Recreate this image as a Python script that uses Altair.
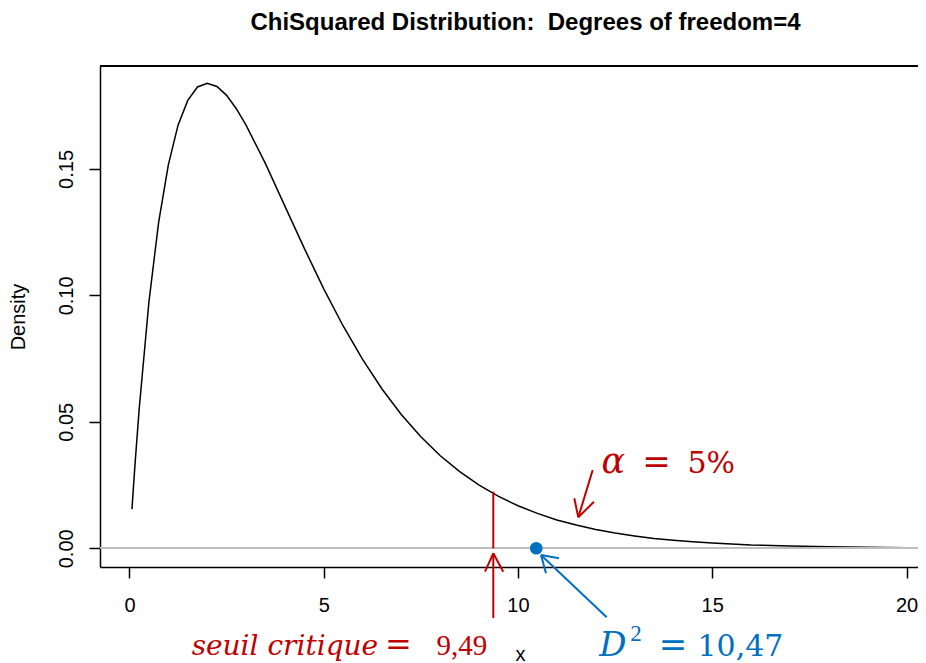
import altair as alt
import pandas as pd

# ---- data ----
CURVE_X = [0.064, 0.1, 0.15, 0.25, 0.5, 0.75, 1.0, 1.25, 1.5, 1.75, 2.0, 2.25, 2.5, 2.75,
           3.0, 3.5, 4.0, 4.5, 5.0, 5.5, 6.0, 6.5, 7.0, 7.5, 8.0, 8.5, 9.0, 9.5, 10.0,
           10.5, 11.0, 11.5, 12.0, 12.5, 13.0, 13.5, 14.0, 14.5, 15.0, 16.0, 17.0, 18.0,
           19.0, 20.0]
CURVE_Y = [0.0155, 0.0238, 0.0348, 0.0552, 0.0974, 0.1289, 0.1516, 0.1673, 0.1771, 0.1824,
           0.1839, 0.1826, 0.1791, 0.1738, 0.1673, 0.1521, 0.1353, 0.1186, 0.1026, 0.0879,
           0.0747, 0.0630, 0.0528, 0.0441, 0.0366, 0.0303, 0.0250, 0.0205, 0.0168, 0.0138,
           0.0112, 0.0092, 0.0074, 0.0060, 0.0049, 0.0039, 0.0032, 0.0026, 0.0021, 0.0013,
           0.0009, 0.0006, 0.0004, 0.0002]

X_TICKS = [0, 5, 10, 15, 20]
Y_TICKS = [0.0, 0.05, 0.10, 0.15]
X_DOMAIN = [-0.759, 20.296]
Y_DOMAIN = [-0.0074, 0.1907]

TITLE = "ChiSquared Distribution: \u00a0Degrees of freedom=4"

RED = "#C00000"
BLUE = "#0070C0"

# observed statistic
D2_X = 10.47
D2_Y = 0.0

# line segments (threshold line + arrows): x, y, x2, y2, colour
SEG_X = [9.364, 9.364, 9.364, 9.364,
         11.923, 11.552, 11.552,
         12.283, 10.592, 10.592]
SEG_Y = [0.0, -0.02756, -0.00198, -0.00198,
         0.03096, 0.01226, 0.01226,
         -0.02729, -0.00265, -0.00265]
SEG_X2 = [9.364, 9.364, 9.15, 9.62,
          11.552, 11.449, 11.956,
          10.592, 10.721, 11.055]
SEG_Y2 = [0.0224, -0.00198, -0.00925, -0.00925,
          0.01226, 0.01977, 0.01843,
          -0.00265, -0.00989, -0.00395]
SEG_C = [RED, RED, RED, RED, RED, RED, RED, BLUE, BLUE, BLUE]

# annotation text pieces
IT_LABEL = ["seuil critique", "\u03b1", "D"]
IT_X = [1.60, 12.15, 12.09]
IT_Y = [-0.0422, 0.0299, -0.0426]
IT_SIZE = [28, 35, 34]
IT_C = [RED, RED, BLUE]

EQ_LABEL = ["=", "=", "=", "5%", "10,47"]
EQ_X = [6.58, 13.20, 13.62, 14.36, 14.62]
EQ_Y = [-0.0422, 0.0299, -0.0426, 0.0299, -0.0426]
EQ_SIZE = [32, 34, 34, 30, 30]
EQ_C = [RED, RED, BLUE, RED, BLUE]

NUM_LABEL = ["9,49", "2"]
NUM_X = [7.90, 12.89]
NUM_Y = [-0.0422, -0.0367]
NUM_SIZE = [29, 23]
NUM_C = [RED, BLUE]

# ---- tables ----
curve_df = pd.DataFrame({"x": CURVE_X, "density": CURVE_Y})
seg_df = pd.DataFrame({"x": SEG_X, "density": SEG_Y, "x2": SEG_X2, "y2": SEG_Y2, "c": SEG_C})
pt_df = pd.DataFrame({"x": [D2_X], "density": [D2_Y]})
it_df = pd.DataFrame({"t": IT_LABEL, "x": IT_X, "density": IT_Y, "s": IT_SIZE, "c": IT_C})
eq_df = pd.DataFrame({"t": EQ_LABEL, "x": EQ_X, "density": EQ_Y, "s": EQ_SIZE, "c": EQ_C})
num_df = pd.DataFrame({"t": NUM_LABEL, "x": NUM_X, "density": NUM_Y, "s": NUM_SIZE, "c": NUM_C})

xs = alt.Scale(domain=X_DOMAIN, nice=False, zero=False)
ys = alt.Scale(domain=Y_DOMAIN, nice=False, zero=False)

x_axis = alt.Axis(values=X_TICKS, format="d", grid=False,
                  domainColor="black", domainWidth=1.5,
                  tickColor="black", tickWidth=1.5, tickSize=11,
                  labelFont="Liberation Sans", labelFontSize=20, labelColor="black",
                  labelPadding=17,
                  title="x", titleFont="Liberation Sans", titleFontSize=20,
                  titleFontWeight="normal", titleColor="black",
                  titleX=420, titleY=93, titleAlign="center", titleBaseline="alphabetic")
y_axis = alt.Axis(values=Y_TICKS, format=".2f", grid=False,
                  domainColor="black", domainWidth=1.5,
                  tickColor="black", tickWidth=1.5, tickSize=11,
                  labelFont="Liberation Sans", labelFontSize=20, labelColor="black",
                  labelAngle=270, labelAlign="center", labelBaseline="alphabetic",
                  labelPadding=17,
                  title="Density", titleFont="Liberation Sans", titleFontSize=20,
                  titleFontWeight="normal", titleColor="black",
                  titleAngle=270, titleX=-76, titleY=250.5,
                  titleAlign="center", titleBaseline="alphabetic")

X = lambda: alt.X("x:Q", scale=xs, axis=x_axis, title="x")
Y = lambda: alt.Y("density:Q", scale=ys, axis=y_axis, title="Density")

curve = alt.Chart(curve_df).mark_line(color="black", strokeWidth=1.5).encode(
    x=X(), y=Y()
)

zero_line = alt.Chart(curve_df).mark_rule(color="#BEBEBE", strokeWidth=1.5).encode(
    y=alt.YDatum(0.0, scale=ys, axis=y_axis, title="Density")
)

top_frame = alt.Chart(curve_df).mark_rule(color="black", strokeWidth=1.5).encode(
    y=alt.YDatum(Y_DOMAIN[1], scale=ys, axis=y_axis, title="Density")
)

segs = alt.Chart(seg_df).mark_rule(strokeWidth=2).encode(
    x=X(), y=Y(),
    x2="x2:Q",
    y2="y2:Q",
    color=alt.Color("c:N", scale=None),
)

point = alt.Chart(pt_df).mark_circle(size=160, color=BLUE, opacity=1).encode(
    x=X(), y=Y()
)

def text_layer(df, font, style):
    return alt.Chart(df).mark_text(font=font, fontStyle=style, align="left",
                                   baseline="alphabetic").encode(
        x=X(), y=Y(),
        text="t:N",
        size=alt.Size("s:Q", scale=None),
        color=alt.Color("c:N", scale=None),
    )

it_text = text_layer(it_df, "DejaVu Serif", "italic")
eq_text = text_layer(eq_df, "DejaVu Serif", "normal")
num_text = text_layer(num_df, "Liberation Serif", "normal")

chart = alt.layer(
    curve, zero_line, top_frame, segs, point, it_text, eq_text, num_text
).properties(
    width=818,
    height=501,
    autosize=alt.AutoSizeParams(type="none"),
    padding={"left": 92, "top": 58, "right": 0, "bottom": 96},
    title=alt.TitleParams(TITLE, font="Liberation Sans", fontSize=24,
                          fontWeight="bold", color="black", anchor="middle",
                          dx=16.5, offset=30, frame="group"),
).configure_view(stroke=None).configure(background="white")

chart.save("out.html", embed_options={"renderer": "svg", "actions": False})
